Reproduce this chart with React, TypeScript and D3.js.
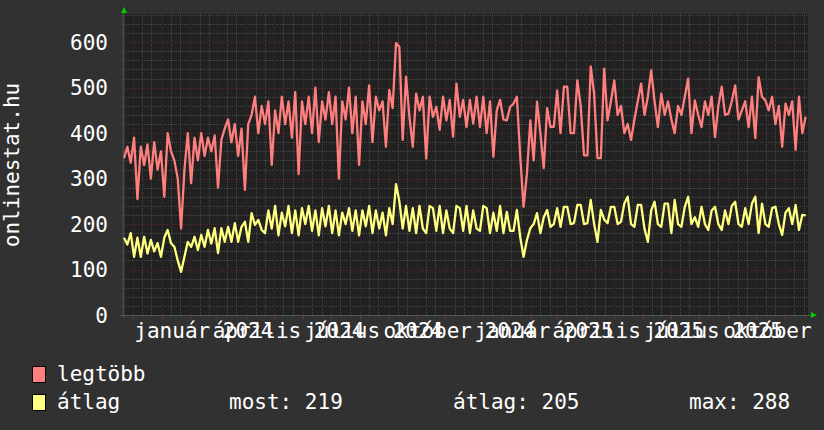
import React from "react";
import * as d3 from "d3";

// heti bontás: minden hét két értéke (eleje, vége)
const maxVals = [
  345, 370, 335, 390, 255, 370, 330, 375, 300, 380, 320, 360, 260, 400, 360, 340, 300, 190,
  320, 400, 290, 390, 340, 400, 350, 390, 360, 395, 280, 385, 410, 430, 380, 420, 350, 410, 275, 420,
  440, 480, 400, 460, 420, 470, 330, 450, 400, 480, 420, 470, 390, 490, 310, 470, 420, 480, 400, 500,
  380, 470, 430, 490, 420, 480, 300, 470, 430, 500, 400, 480, 330, 470, 420, 505, 380, 480, 450, 470,
  370, 495, 455, 598, 590, 385, 524, 436, 370, 487, 450, 480, 344, 480, 436, 458, 407, 480, 428, 473,
  392, 509, 436, 473, 413, 473, 421, 480, 413, 480, 400, 470, 348, 450, 473, 430, 428, 458, 465, 480,
  348, 238, 312, 428, 340, 469, 400, 323, 455, 414, 414, 494, 400, 502, 502, 400, 400, 516, 460, 351,
  351, 547, 487, 345, 345, 542, 428, 470, 516, 440, 460, 400, 420, 385, 430, 470, 509, 440, 480, 538,
  470, 413, 487, 440, 470, 430, 400, 460, 440, 480, 520, 400, 472, 440, 413, 470, 440, 480, 391, 460,
  502, 440, 443, 470, 505, 430, 450, 470, 413, 480, 389, 523, 480, 472, 450, 480, 420, 460, 370, 465,
  440, 470, 363, 480, 400, 436,
];

const avgVals = [
  170, 155, 180, 128, 170, 128, 172, 135, 165, 140, 158, 128, 170, 187, 158, 150, 120, 95,
  128, 161, 150, 172, 143, 176, 150, 187, 157, 191, 136, 191, 161, 194, 161, 202, 161, 194, 205, 161,
  224, 198, 209, 187, 180, 230, 190, 240, 175, 225, 195, 240, 180, 230, 175, 235, 200, 240, 185, 230,
  175, 235, 195, 240, 180, 230, 175, 225, 200, 235, 185, 230, 175, 230, 195, 240, 180, 230, 190, 225,
  175, 235, 200, 288, 250, 190, 240, 185, 235, 180, 240, 190, 180, 240, 235, 185, 240, 180, 230, 190,
  180, 240, 235, 185, 240, 180, 230, 190, 185, 240, 235, 180, 225, 185, 240, 180, 227, 185, 185, 231,
  171, 128, 165, 191, 200, 224, 180, 215, 231, 194, 200, 235, 194, 238, 238, 200, 202, 242, 242, 200,
  202, 253, 200, 161, 231, 210, 202, 238, 238, 200, 205, 245, 260, 200, 194, 242, 242, 190, 161, 230,
  249, 200, 194, 245, 245, 180, 253, 200, 194, 238, 260, 200, 215, 194, 238, 200, 187, 230, 238, 200,
  187, 230, 200, 240, 249, 200, 194, 235, 200, 245, 260, 180, 245, 200, 194, 235, 238, 200, 176, 225,
  235, 200, 242, 187, 220, 219,
];

const monthNames = [
  "január", "február", "március", "április", "május", "június",
  "július", "augusztus", "szeptember", "október", "november", "december",
];
const yTicks = [0, 100, 200, 300, 400, 500, 600];
const seriesNames = ["legtöbb", "átlag"];
const seriesColors = ["#ff7f7f", "#ffff80"];
const stats = ["most: 219", "átlag: 205", "max: 288"];

const W = 824, H = 430;
const left = 124, right = 808, top = 14, bottom = 315;
const mono = "DejaVu Sans Mono";

const start = new Date(2023, 10, 21, 16);
const end = new Date(2025, 10, 25, 16);
const stepHours = 86.6;
const dates = maxVals.map((_, i) => d3.timeHour.offset(start, Math.round(i * stepHours)));

const App: React.FC = () => {
  const x = d3.scaleTime().domain([start, end]).range([left, right]);
  const y = d3.scaleLinear().domain([0, 662]).range([bottom, top]);

  const line = d3.line<number>()
    .x((_, i) => x(dates[i]))
    .y((d) => y(d));

  const months = d3.timeMonth.range(start, end);
  const minorDays = d3.timeDay.range(start, end).filter((d) => d.getDate() === 11 || d.getDate() === 21);
  const quarters = d3.timeMonth.every(3)!.range(start, end);
  const yMinor = d3.range(20, 662, 20).filter((v) => v % 100 !== 0);
  const yMajor = yTicks.filter((v) => v > 0);
  const px = (v: number) => Math.round(v) + 0.5;

  return (
    <svg width={W} height={H} style={{ position: "absolute", left: 0, top: 0, display: "block" }}>
      <rect x={0} y={0} width={W} height={H} fill="#313131" />
      <rect x={left} y={top} width={right - left} height={bottom - top} fill="#212121" />

      {/* grid */}
      <g strokeWidth={1} shapeRendering="crispEdges">
        {yMinor.map((v) => (
          <line key={"ym" + v} x1={left - 2} x2={right} y1={px(y(v))} y2={px(y(v))}
            stroke="#464646" strokeDasharray="1 1" />
        ))}
        {minorDays.map((d, i) => (
          <line key={"xm" + i} x1={px(x(d))} x2={px(x(d))} y1={top} y2={bottom + 2}
            stroke="#464646" strokeDasharray="1 1" />
        ))}
        {yMajor.map((v) => (
          <line key={"yM" + v} x1={left - 3} x2={right} y1={px(y(v))} y2={px(y(v))}
            stroke="#532727" strokeDasharray="1 1" />
        ))}
        {months.map((d, i) => (
          <line key={"xM" + i} x1={px(x(d))} x2={px(x(d))} y1={top} y2={bottom}
            stroke="#4d2525" strokeDasharray="1 1" />
        ))}
        {months.map((d, i) => (
          <line key={"xt" + i} x1={px(x(d))} x2={px(x(d))} y1={bottom} y2={bottom + 4}
            stroke="#7a3535" />
        ))}
      </g>

      {/* axes */}
      <line x1={left - 0.5} x2={left - 0.5} y1={top - 2} y2={bottom + 3} stroke="#474747" strokeWidth={2} />
      <line x1={left - 4} x2={right + 4} y1={bottom + 0.5} y2={bottom + 0.5} stroke="#555555" strokeWidth={1} />
      <path d={`M${left - 3},${top - 1}L${left + 3},${top - 1}L${left},${top - 7}Z`} fill="#00d000" />
      <path d={`M${right + 3},${bottom - 3}L${right + 3},${bottom + 3}L${right + 9},${bottom}Z`} fill="#00d000" />

      {/* series */}
      <path d={line(maxVals) ?? ""} fill="none" stroke={seriesColors[0]} strokeWidth={2.3} strokeLinejoin="round" />
      <path d={line(avgVals) ?? ""} fill="none" stroke={seriesColors[1]} strokeWidth={2.3} strokeLinejoin="round" />

      {/* y labels */}
      {yTicks.map((v) => (
        <text key={"yl" + v} x={108} y={y(v)} dy="0.36em" textAnchor="end" fill="#ffffff"
          fontFamily={mono} fontSize={21}>{v}</text>
      ))}
      <text transform={`translate(19,${165}) rotate(-90)`} textAnchor="middle" fill="#ffffff"
        fontFamily={mono} fontSize={21}>onlinestat.hu</text>

      {/* x labels: a negyedév közepére igazítva */}
      {quarters.map((d, i) => {
        const mid = (x(d) + x(d3.timeMonth.offset(d, 3))) / 2;
        return (
          <text key={"xl" + i} x={mid} y={338} textAnchor="middle" fill="#ffffff"
            fontFamily={mono} fontSize={21}>{`${monthNames[d.getMonth()]} ${d.getFullYear()}`}</text>
        );
      })}

      {/* legend */}
      {seriesNames.map((name, i) => (
        <g key={name}>
          <rect x={32.5} y={366.5 + i * 28} width={13} height={16} fill={seriesColors[i]} stroke="#000" strokeWidth={1} />
          <text x={57} y={381 + i * 28} fill="#ffffff" fontFamily={mono} fontSize={21}>{name}</text>
        </g>
      ))}
      {stats.map((s, i) => (
        <text key={s} x={[229, 453, 689][i]} y={409} fill="#ffffff" fontFamily={mono} fontSize={21}>{s}</text>
      ))}
    </svg>
  );
};

export default App;
